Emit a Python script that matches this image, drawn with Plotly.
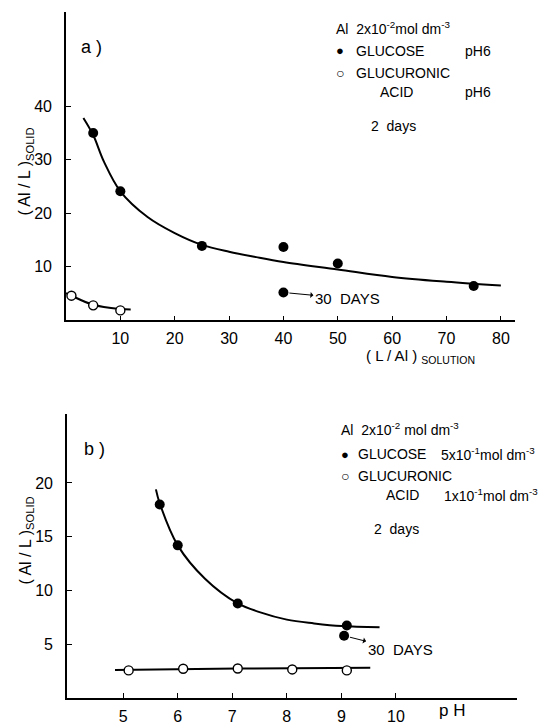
import plotly.graph_objects as go

W, H = 539, 725
FONT = "Liberation Sans, Arial, sans-serif"

# ---------------- Panel a) : (Al/L)solid vs (L/Al)solution ----------------
a_glucose_x = [5, 10, 25, 40, 50, 75]
a_glucose_y = [35.0, 24.1, 13.9, 13.7, 10.6, 6.4]
a_glucose_30d_x = [40]
a_glucose_30d_y = [5.2]
a_glucose_fit_x = [3.2, 5, 7, 10, 15, 20, 25, 30, 35, 40, 50, 60, 70, 80]
a_glucose_fit_y = [37.8, 34.6, 29.6, 24.1, 19.3, 16.3, 14.1, 12.8, 11.8, 10.9, 9.5, 8.1, 7.2, 6.5]

a_glucuronic_x = [1, 5, 10]
a_glucuronic_y = [4.6, 2.8, 1.85]
a_glucuronic_fit_x = [0, 1, 5, 10, 11.9]
a_glucuronic_fit_y = [5.1, 4.6, 2.9, 2.1, 2.0]

a_xticks = [10, 20, 30, 40, 50, 60, 70, 80]
a_yticks = [10, 20, 30, 40]

# ---------------- Panel b) : (Al/L)solid vs pH ----------------
b_glucose_x = [5.67, 6.0, 7.1, 9.1]
b_glucose_y = [18.0, 14.2, 8.8, 6.75]
b_glucose_30d_x = [9.05]
b_glucose_30d_y = [5.8]
b_glucose_fit_x = [5.6, 5.67, 6.0, 6.5, 7.1, 7.5, 8.0, 8.5, 9.0, 9.7]
b_glucose_fit_y = [19.4, 18.1, 14.2, 11.1, 8.8, 8.0, 7.3, 6.95, 6.7, 6.6]

b_glucuronic_x = [5.1, 6.1, 7.1, 8.1, 9.1]
b_glucuronic_y = [2.58, 2.73, 2.76, 2.67, 2.58]
b_glucuronic_fit_x = [4.85, 7.1, 9.53]
b_glucuronic_fit_y = [2.62, 2.75, 2.82]

b_xticks = [5, 6, 7, 8, 9, 10]
b_yticks = [5, 10, 15, 20]


def px(x):
    return x / W


def py(y):
    return 1 - y / H


fig = go.Figure()

line_style = dict(color="black", width=2, shape="spline", smoothing=1.0)
filled = dict(color="black", size=10, symbol="circle")
opened = dict(color="white", size=9, symbol="circle", line=dict(color="black", width=1.4))

# panel a traces
fig.add_trace(go.Scatter(x=a_glucose_fit_x, y=a_glucose_fit_y, mode="lines", line=line_style,
                         xaxis="x", yaxis="y", hoverinfo="skip"))
fig.add_trace(go.Scatter(x=a_glucuronic_fit_x, y=a_glucuronic_fit_y, mode="lines", line=line_style,
                         xaxis="x", yaxis="y", hoverinfo="skip"))
fig.add_trace(go.Scatter(x=a_glucose_x, y=a_glucose_y, mode="markers", marker=filled,
                         xaxis="x", yaxis="y"))
fig.add_trace(go.Scatter(x=a_glucose_30d_x, y=a_glucose_30d_y, mode="markers", marker=filled,
                         xaxis="x", yaxis="y"))
fig.add_trace(go.Scatter(x=a_glucuronic_x, y=a_glucuronic_y, mode="markers", marker=opened,
                         xaxis="x", yaxis="y", cliponaxis=False))

# panel b traces
fig.add_trace(go.Scatter(x=b_glucose_fit_x, y=b_glucose_fit_y, mode="lines", line=line_style,
                         xaxis="x2", yaxis="y2", hoverinfo="skip"))
fig.add_trace(go.Scatter(x=b_glucuronic_fit_x, y=b_glucuronic_fit_y, mode="lines", line=line_style,
                         xaxis="x2", yaxis="y2", hoverinfo="skip"))
fig.add_trace(go.Scatter(x=b_glucose_x, y=b_glucose_y, mode="markers", marker=filled,
                         xaxis="x2", yaxis="y2"))
fig.add_trace(go.Scatter(x=b_glucose_30d_x, y=b_glucose_30d_y, mode="markers", marker=filled,
                         xaxis="x2", yaxis="y2"))
fig.add_trace(go.Scatter(x=b_glucuronic_x, y=b_glucuronic_y, mode="markers", marker=opened,
                         xaxis="x2", yaxis="y2"))

axis_common = dict(showline=True, linecolor="black", linewidth=1.6, mirror=False,
                   ticks="inside", ticklen=5, tickwidth=1.4, tickcolor="black",
                   showgrid=False, zeroline=False,
                   tickfont=dict(family=FONT, size=16, color="black"))

fig.update_layout(
    width=W, height=H,
    margin=dict(l=0, r=0, t=0, b=0),
    paper_bgcolor="white", plot_bgcolor="white",
    showlegend=False,
    font=dict(family=FONT, color="black"),
    xaxis=dict(domain=[px(66), px(515)], range=[0, 82.6], anchor="y",
               tickvals=a_xticks, ticklabelstandoff=3, **axis_common),
    yaxis=dict(domain=[py(323), py(12)], range=[0, 57.6], anchor="x",
               tickvals=a_yticks, ticklabelstandoff=9, **axis_common),
    xaxis2=dict(domain=[px(67), px(517)], range=[3.97, 12.22], anchor="y2",
                tickvals=b_xticks, ticklabelstandoff=3, **axis_common),
    yaxis2=dict(domain=[py(704), py(417)], range=[0, 26.45], anchor="x2",
                tickvals=b_yticks, ticklabelstandoff=9, **axis_common),
)


def txt(x, y, s, size=14, xanchor="left", angle=0):
    fig.add_annotation(x=px(x), y=py(y), xref="paper", yref="paper", text=s,
                       showarrow=False, xanchor=xanchor, yanchor="middle",
                       textangle=angle, font=dict(family=FONT, size=size, color="black"))


# panel labels
txt(79, 47, "a )", size=18)
txt(82, 453, "b )", size=18)

# axis titles
txt(26, 173, "( Al / L )<sub>SOLID</sub>", size=16, xanchor="center", angle=-90)
txt(26, 545, "( Al / L )<sub>SOLID</sub>", size=16, xanchor="center", angle=-90)
txt(364, 359, "( L / Al ) <sub>SOLUTION</sub>", size=15)
txt(437, 716, "p H", size=17)

# legend a
txt(334, 28, "Al  2x10<sup>-2</sup>mol dm<sup>-3</sup>")
txt(340, 51, "●", size=13, xanchor="center")
txt(354, 51, "GLUCOSE")
txt(463, 51, "pH6")
txt(340, 74, "○", size=14, xanchor="center")
txt(354, 74, "GLUCURONIC")
txt(378, 93, "ACID")
txt(463, 93, "pH6")
txt(369, 127, "2  days")

# legend b
txt(339, 433, "Al  2x10<sup>-2</sup> mol dm<sup>-3</sup>")
txt(345, 458, "●", size=13, xanchor="center")
txt(356, 458, "GLUCOSE")
txt(439, 458, "5x10<sup>-1</sup>mol dm<sup>-3</sup>")
txt(345, 480, "○", size=14, xanchor="center")
txt(356, 480, "GLUCURONIC")
txt(384, 499, "ACID")
txt(442, 499, "1x10<sup>-1</sup>mol dm<sup>-3</sup>")
txt(372, 533, "2  days")

# 30 days arrows
fig.add_annotation(x=a_glucose_30d_x[0], y=a_glucose_30d_y[0], xref="x", yref="y",
                   text="30  DAYS", showarrow=True, ax=64, ay=6, axref="pixel", ayref="pixel",
                   arrowside="start", arrowhead=2, arrowsize=1, arrowwidth=1, standoff=6,
                   arrowcolor="black",
                   font=dict(family=FONT, size=15, color="black"))
fig.add_annotation(x=b_glucose_30d_x[0], y=b_glucose_30d_y[0], xref="x2", yref="y2",
                   text="30  DAYS", showarrow=True, ax=56, ay=14, axref="pixel", ayref="pixel",
                   arrowside="start", arrowhead=2, arrowsize=1, arrowwidth=1, standoff=6,
                   arrowcolor="black",
                   font=dict(family=FONT, size=15, color="black"))

fig.write_html("out.html",
               config={"displayModeBar": False},
               post_script="document.body.style.margin='0';document.body.style.padding='0';"
                           "document.body.style.overflow='hidden';")
